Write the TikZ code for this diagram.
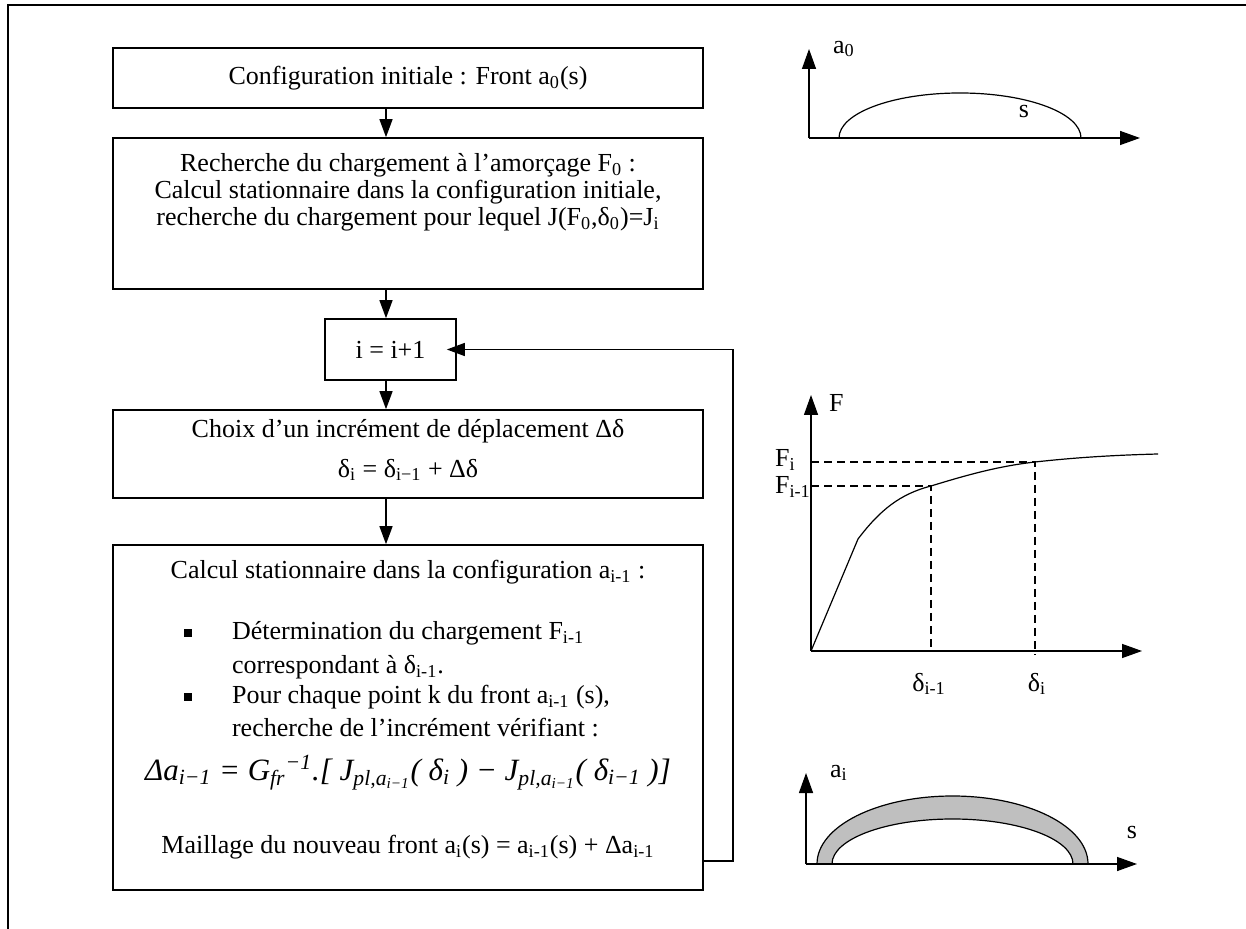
\documentclass[tikz,border=0pt]{standalone}
\usepackage{fontspec}
\setmainfont{Liberation Serif}
\usetikzlibrary{arrows.meta}

\begin{document}
\begin{tikzpicture}[x=0.5pt,y=-0.5pt,
    box/.style={draw, line width=0.8pt, minimum width=295pt, inner sep=0pt},
    flow/.style={-{Triangle[length=9pt,width=6.5pt]}, line width=0.7pt},
    axe/.style={-{Triangle[length=10pt,width=7pt]}, line width=0.7pt},
    tiret/.style={line width=0.6pt, dash pattern=on 4pt off 2.5pt},
    font=\fontsize{13}{13.5}\selectfont]
    \useasboundingbox (0,0) rectangle (1246,929);

    % cadre
    \draw[line width=1pt] (8,929) -- (8,5) -- (1246,5);

    % organigramme
    \node[box, minimum height=30pt] (init) at (408,78)
        {Configuration initiale : Front a\textsubscript{0}(s)};
    \node[box, minimum height=75.5pt] (amorce) at (408,213.5) {};
    \node[align=center] (amorcetxt) at (408,192)
        {Recherche du chargement à l’amorçage F\textsubscript{0} :\\
         Calcul stationnaire dans la configuration initiale,\\
         recherche du chargement pour lequel J(F\textsubscript{0},δ\textsubscript{0})=J\textsubscript{i}};
    \node[box, minimum width=65.5pt, minimum height=30.5pt] (incr) at (390.5,349.5) {i = i+1};
    \node[box, minimum height=44pt] (choix) at (408,454) {};
    \node[align=center, font=\fontsize{13}{20}\selectfont] (choixtxt) at (408,450)
        {Choix d’un incrément de déplacement Δδ\\
         δ\textsubscript{i} = δ\textsubscript{i−1} + Δδ};
    \node[box, minimum height=172.5pt] (calcul) at (408,717.5) {};

    % contenu du dernier bloc
    \node (titre) at (408,572) {Calcul stationnaire dans la configuration a\textsubscript{i-1} :};
    \node[fill, minimum size=4pt, inner sep=0pt] (puce1) at (188,633) {};
    \node[fill, minimum size=4pt, inner sep=0pt] (puce2) at (188,697) {};
    \node[anchor=west] (ligne1) at (225,633) {Détermination du chargement F\textsubscript{i-1}};
    \node[anchor=west] (ligne2) at (225,667) {correspondant à δ\textsubscript{i-1}.};
    \node[anchor=west] (ligne3) at (225,697) {Pour chaque point k du front a\textsubscript{i-1} (s),};
    \node[anchor=west] (ligne4) at (225,728) {recherche de l’incrément vérifiant :};
    \node[font=\fontsize{15.5}{18}\selectfont\itshape] (formule) at (408,773)
        {Δa\textsubscript{i−1} = G\textsubscript{fr}\textsuperscript{−1}.[ J\textsubscript{pl,a\textsubscript{i−1}}( δ\textsubscript{i} ) − J\textsubscript{pl,a\textsubscript{i−1}}( δ\textsubscript{i−1} )]};
    \node (maillage) at (408,847)
        {Maillage du nouveau front a\textsubscript{i}(s) = a\textsubscript{i-1}(s) + Δa\textsubscript{i-1}};

    % fleches
    \coordinate (fl) at (386,0);
    \coordinate (retour) at (733,861);
    \draw[flow] (init.south -| fl) -- (amorce.north -| fl);
    \draw[flow] (amorce.south -| fl) -- (incr.north -| fl);
    \draw[flow] (incr.south -| fl) -- (choix.north -| fl);
    \draw[flow] (choix.south -| fl) -- (calcul.north -| fl);
    \draw[flow] (calcul.east |- retour) -- (retour) -- (retour |- incr) -- ([xshift=-5pt]incr.east);

    % front initial
    \draw[axe] (809,138) -- (809,49);
    \draw[axe] (809,138) -- (1140,138);
    \draw[line width=0.6pt] (839,138) .. controls (839,113) and (893,93) .. (960,93)
        .. controls (1027,93) and (1081,113) .. (1081,138);
    \node[anchor=west] (a0) at (826,49) {a\textsubscript{0}};
    \node (s0) at (1024,112) {s};

    % courbe F - delta
    \draw[axe] (811,651) -- (811,395);
    \draw[axe] (811,651) -- (1142,651);
    \draw[line width=0.6pt] (811,651) -- (858,539) .. controls (880,510) and (900,494) .. (931,486)
        .. controls (970,474) and (1000,466) .. (1035,462)
        .. controls (1080,457) and (1120,455) .. (1158,454);
    \draw[tiret] (811,462) -- (1035,462) -- (1035,655);
    \draw[tiret] (811,486) -- (931,486) -- (931,651);
    \node[anchor=west] (F) at (822,403) {F};
    \node[anchor=west] (Fi) at (768,460) {F\textsubscript{i}};
    \node[anchor=west] (Fim) at (768,487) {F\textsubscript{i-1}};
    \node (dim) at (929,684) {δ\textsubscript{i-1}};
    \node (di) at (1037,684) {δ\textsubscript{i}};

    % nouveau front
    \draw[fill=black!25, line width=0.6pt] (817,864) .. controls (817,826) and (878,796) .. (952.5,796)
        .. controls (1027,796) and (1088,826) .. (1088,864) -- (1073,864)
        .. controls (1073,839) and (1019,819) .. (952.5,819)
        .. controls (886,819) and (832,839) .. (832,864) -- cycle;
    \draw[axe] (806,864) -- (806,773);
    \draw[axe] (806,864) -- (1137,864);
    \node[anchor=west] (ai) at (823,773) {a\textsubscript{i}};
    \node (s1) at (1132,832) {s};
\end{tikzpicture}
\end{document}
